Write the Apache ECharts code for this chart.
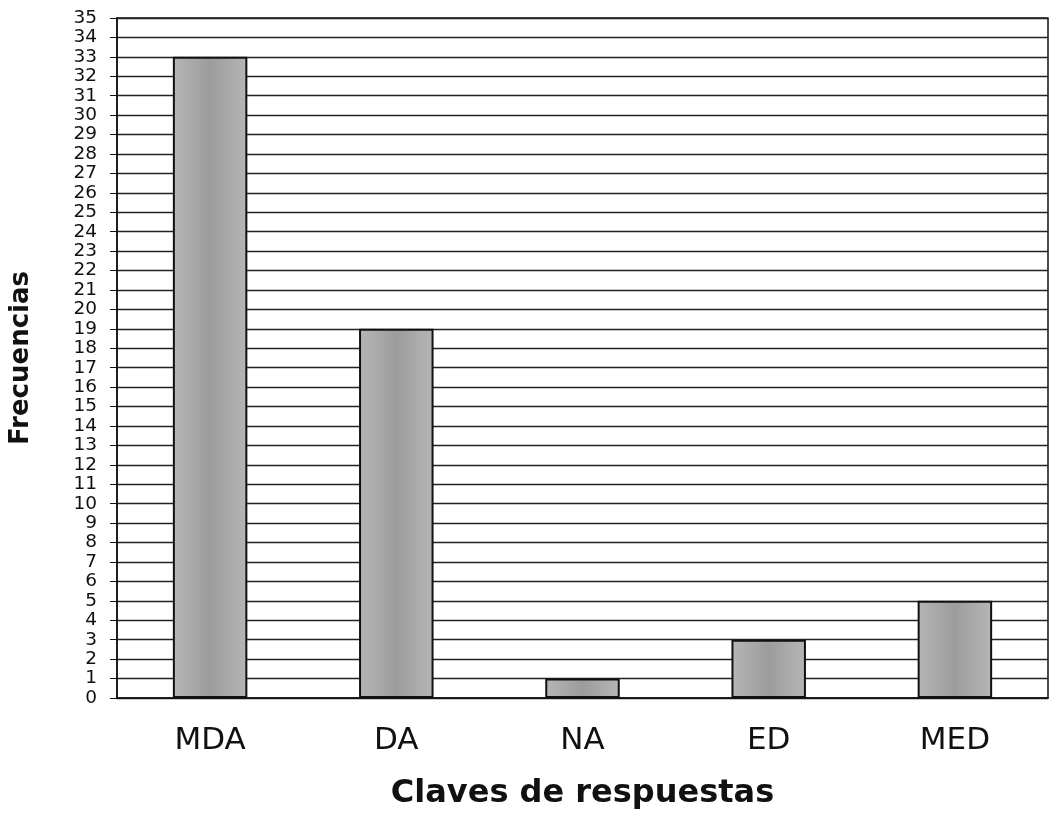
<!DOCTYPE html>
<html>
<head>
<meta charset="utf-8">
<script src="https://cdn.jsdelivr.net/npm/echarts@6/dist/echarts.min.js"></script>
<style>
  html, body { margin: 0; padding: 0; background: #fff; }
  #chart { width: 1057px; height: 836px; }
</style>
</head>
<body>
<div id="chart"></div>
<script>
  var categories = ['MDA', 'DA', 'NA', 'ED', 'MED']
  var frecuencias = [33, 19, 1, 3, 5]
  var yMin = 0
  var yMax = 35

  var myChart = echarts.init(document.getElementById('chart'))
  // grey bar fill, a bit darker in the middle like the scanned original
  var barFill = new echarts.graphic.LinearGradient(0, 0, 1, 0, [
    {offset: 0, color: '#b6b6b6'},
    {offset: 0.5, color: '#9c9c9c'},
    {offset: 1, color: '#b6b6b6'}
  ])
  var option = {
    backgroundColor: '#fff',
    animation: false,
    textStyle: { fontFamily: 'DejaVu Sans, sans-serif' },
    grid: {
      left: 115, right: 9, top: 18, bottom: 138,
      show: true,
      borderColor: '#111',
      borderWidth: 1.5
    },
    xAxis: {
      type: 'category',
      data: categories,
      name: 'Claves de respuestas',
      nameLocation: 'middle',
      nameGap: 80,
      nameTextStyle: { fontSize: 32, fontWeight: 'bold', color: '#111' },
      axisLine: { lineStyle: { color: '#111', width: 1.5 } },
      axisTick: { show: false },
      axisLabel: { fontSize: 31, color: '#111', margin: 27 }
    },
    yAxis: {
      type: 'value',
      min: yMin,
      max: yMax,
      interval: 1,
      name: 'Frecuencias',
      nameLocation: 'middle',
      nameGap: 83,
      nameTextStyle: { fontSize: 26, fontWeight: 'bold', color: '#111' },
      axisLine: { show: true, lineStyle: { color: '#111', width: 1.5 } },
      axisTick: { show: true, length: 7, inside: false, lineStyle: { color: '#111' } },
      axisLabel: { fontSize: 18.5, color: '#111', margin: 20 },
      splitLine: { lineStyle: { color: '#222', width: 1.3 } }
    },
    series: [
      {
        type: 'bar',
        data: frecuencias,
        barWidth: '40%',
        itemStyle: {
          color: barFill,
          borderColor: '#111',
          borderWidth: 2
        }
      }
    ]
  }
  myChart.setOption(option)
</script>
</body>
</html>
